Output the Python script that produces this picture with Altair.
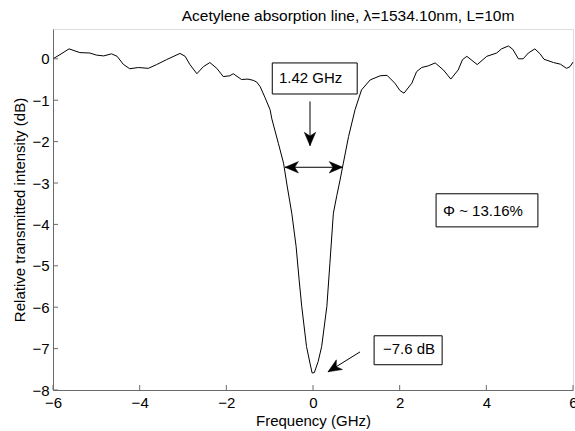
import altair as alt
import pandas as pd

# ---- data ----
freq = [-6.00, -5.84, -5.63, -5.38, -5.15, -5.00, -4.83, -4.65, -4.52, -4.38,
        -4.23, -4.03, -3.80, -3.61, -3.38, -3.07, -2.95, -2.84, -2.68, -2.53,
        -2.38, -2.22, -2.07, -1.92, -1.84, -1.65, -1.50, -1.38, -1.30, -1.22,
        -1.11, -0.99, -0.95, -0.80, -0.68, -0.60, -0.49, -0.39, -0.32, -0.26,
        -0.15, -0.07, -0.02, 0.03, 0.12, 0.20, 0.32, 0.39, 0.47, 0.55,
        0.62, 0.70, 0.82, 0.97, 1.12, 1.32, 1.55, 1.71, 1.89, 2.01,
        2.10, 2.28, 2.39, 2.51, 2.66, 2.82, 3.01, 3.18, 3.35, 3.45,
        3.55, 3.79, 4.01, 4.24, 4.35, 4.51, 4.61, 4.74, 4.85, 4.97,
        5.12, 5.24, 5.33, 5.55, 5.71, 5.85, 5.93, 6.00]
transmission_db = [0.00, 0.10, 0.24, 0.15, 0.14, 0.09, 0.07, 0.12, 0.06, -0.13,
                   -0.24, -0.21, -0.23, -0.14, -0.02, 0.13, 0.06, -0.14, -0.36, -0.19,
                   -0.09, -0.23, -0.43, -0.41, -0.36, -0.50, -0.49, -0.52, -0.56, -0.67,
                   -0.93, -1.23, -1.45, -2.04, -2.52, -3.05, -3.73, -4.53, -5.34, -5.98,
                   -6.95, -7.35, -7.59, -7.58, -7.31, -6.95, -5.98, -4.94, -3.73, -3.30,
                   -2.95, -2.52, -1.88, -1.23, -0.75, -0.51, -0.41, -0.40, -0.59, -0.77,
                   -0.83, -0.59, -0.31, -0.21, -0.17, -0.10, -0.27, -0.49, -0.27, -0.02,
                   0.06, -0.14, 0.06, 0.14, 0.24, 0.31, 0.23, 0.00, 0.00, 0.14,
                   0.24, 0.12, -0.01, -0.09, -0.13, -0.23, -0.19, -0.08]

x_ticks = [-6, -4, -2, 0, 2, 4, 6]
y_ticks = [-8, -7, -6, -5, -4, -3, -2, -1, 0]

title_text = ["Acetylene absorption line, \u03bb=1534.10nm, L=10m"]

# annotation boxes (data coordinates)
box_x1 = [-0.94, 2.84, 1.41]
box_x2 = [1.02, 5.19, 2.98]
box_y1 = [-0.10, -3.26, -6.69]
box_y2 = [-0.85, -4.06, -7.39]
label_text = ["1.42 GHz", "\u03a6 ~ 13.16%", "\u22127.6 dB"]
label_x = [-0.785, 3.00, 1.615]
label_y = [-0.46, -3.67, -7.00]

# arrow shafts
arr_x1 = [-0.069, -0.646, 1.085]
arr_x2 = [-0.069, 0.685, 0.346]
arr_y1 = [-1.03, -2.62, -7.08]
arr_y2 = [-2.10, -2.62, -7.56]
# arrow heads (tip positions and direction, degrees clockwise from up)
head_x = [-0.069, -0.646, 0.685, 0.346]
head_y = [-2.10, -2.62, -2.62, -7.56]
head_angle = [180, 270, 90, 238]

FONT = "Liberation Sans"
AX = "#6a6a6a"
FS = 15

xs = alt.Scale(domain=[-6, 6], nice=False, zero=False)
ys = alt.Scale(domain=[-8, 0.72], nice=False, zero=False)

x_axis = alt.Axis(values=x_ticks, title="Frequency (GHz)", ticks=False, tickSize=0,
                  grid=False, domainColor=AX, domainWidth=1, labelFont=FONT,
                  labelFontSize=FS, labelColor="black", labelPadding=5,
                  labelFlush=False, labelOverlap=False, format="d",
                  titleFont=FONT, titleFontSize=FS, titleFontWeight="normal",
                  titleColor="black", titleY=30, titleBaseline="middle")
y_axis = alt.Axis(values=y_ticks, title="Relative transmitted intensity (dB)",
                  ticks=False, tickSize=0, grid=False, domainColor=AX, domainWidth=1,
                  labelFont=FONT, labelFontSize=FS, labelColor="black", labelPadding=4,
                  labelFlush=False, labelOverlap=False, format="d",
                  titleFont=FONT, titleFontSize=FS, titleFontWeight="normal",
                  titleColor="black", titleX=-34, titleBaseline="middle")


def X(field):
    return alt.X(field, scale=xs, axis=x_axis, title="Frequency (GHz)")


def Y(field):
    return alt.Y(field, scale=ys, axis=y_axis, title="Relative transmitted intensity (dB)")


curve_df = pd.DataFrame({"f": freq, "db": transmission_db})
curve = alt.Chart(curve_df).mark_line(color="black", strokeWidth=1).encode(
    x=X("f:Q"), y=Y("db:Q"),
)

# inward tick marks (MATLAB style)
xt = alt.Chart(pd.DataFrame({"t": x_ticks})).mark_rule(color=AX, strokeWidth=1).encode(
    x=X("t:Q"), y=alt.value(361), y2=alt.value(356),
)
yt = alt.Chart(pd.DataFrame({"t": y_ticks})).mark_rule(color=AX, strokeWidth=1).encode(
    y=Y("t:Q"), x=alt.value(0), x2=alt.value(5),
)

boxes = alt.Chart(pd.DataFrame({"x1": box_x1, "x2": box_x2, "y1": box_y1, "y2": box_y2})).mark_rect(
    fill="white", stroke="black", strokeWidth=1).encode(
    x=X("x1:Q"), x2="x2:Q", y=Y("y1:Q"), y2="y2:Q",
)
labels = alt.Chart(pd.DataFrame({"x": label_x, "y": label_y, "t": label_text})).mark_text(
    align="left", baseline="middle", font=FONT, fontSize=FS, color="black").encode(
    x=X("x:Q"), y=Y("y:Q"), text="t:N",
)
shafts = alt.Chart(pd.DataFrame({"x1": arr_x1, "x2": arr_x2, "y1": arr_y1, "y2": arr_y2})).mark_rule(
    color="black", strokeWidth=1).encode(
    x=X("x1:Q"), x2="x2:Q", y=Y("y1:Q"), y2="y2:Q",
)
heads = alt.Chart(pd.DataFrame({"x": head_x, "y": head_y, "a": head_angle})).mark_point(
    shape="M0,0L0.85,2L0,1.45L-0.85,2Z", filled=True, fill="black", stroke="black",
    strokeWidth=0.5, opacity=1, size=180).encode(
    x=X("x:Q"), y=Y("y:Q"),
    angle=alt.Angle("a:Q", scale=None),
)

# chart title, placed above the plot area
title = alt.Chart(pd.DataFrame({"t": title_text})).mark_text(
    align="center", baseline="alphabetic", font=FONT, fontSize=15.5, color="black").encode(
    x=alt.value(295), y=alt.value(-8), text="t:N",
)

chart = alt.layer(curve, xt, yt, shafts, heads, boxes, labels, title).properties(
    width=520, height=361,
    autosize=alt.AutoSizeParams(type="none"),
    padding={"left": 53, "top": 29, "right": 2, "bottom": 41},
).configure_view(stroke=None).configure(background="white")

chart.save("out.html", embed_options={"renderer": "svg", "actions": False})
